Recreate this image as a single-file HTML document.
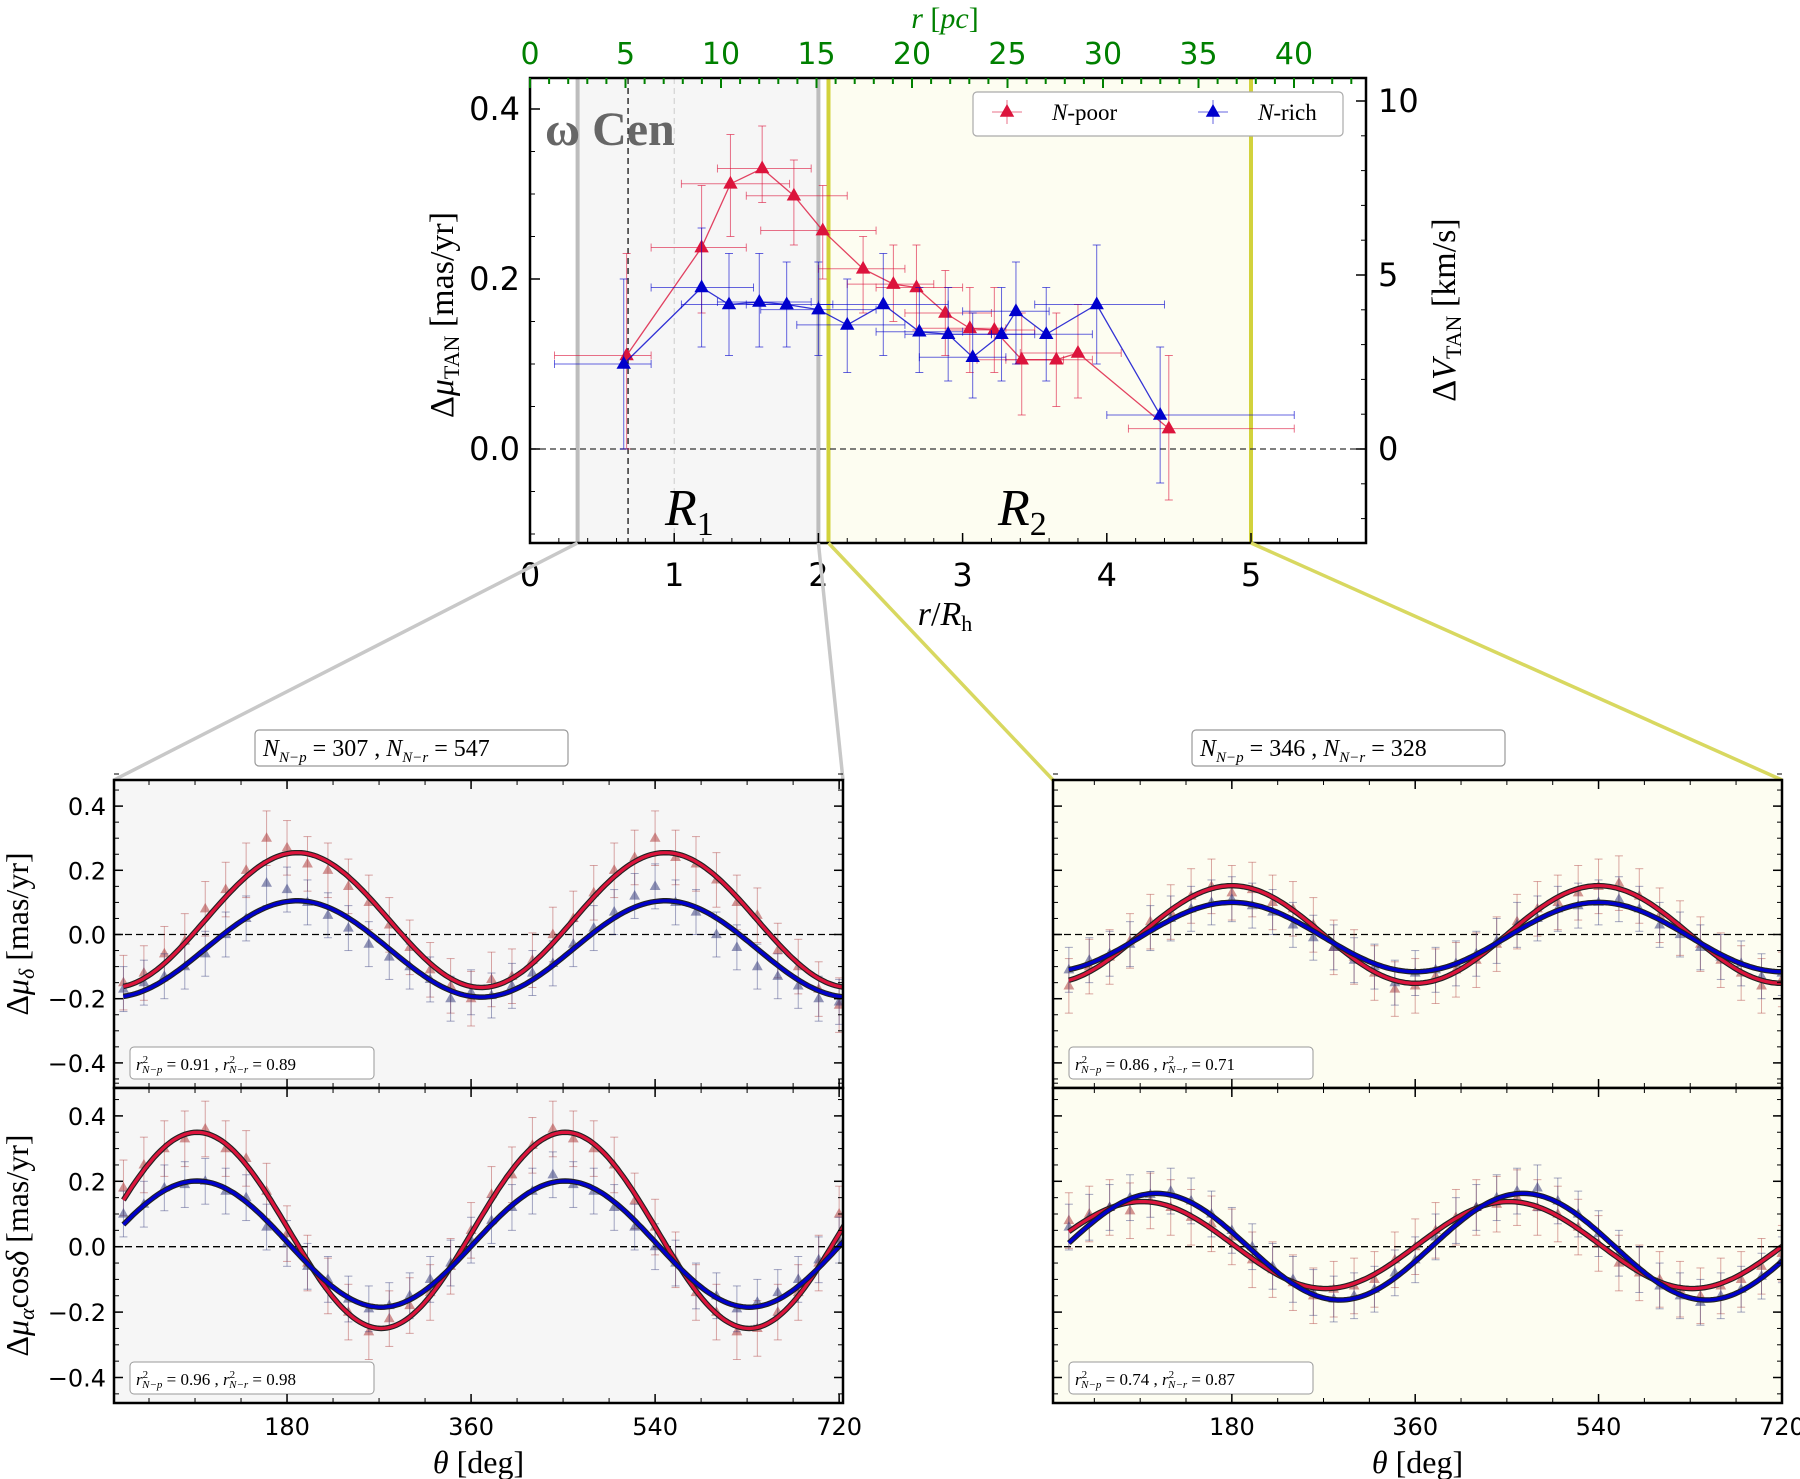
<!DOCTYPE html>
<html><head><meta charset="utf-8">
<style>
html,body{margin:0;padding:0;background:#fff;}
svg{display:block;font-family:"DejaVu Sans","Liberation Sans",sans-serif;}
.serif{font-family:"Liberation Serif","DejaVu Serif",serif;}
</style></head>
<body>
<svg id="fig" width="1800" height="1479" viewBox="0 0 1800 1479" xmlns="http://www.w3.org/2000/svg"></svg>
<script>
// ---------- TOP PANEL DATA ----------
const poorR=[0.67,1.19,1.39,1.61,1.83,2.03,2.31,2.52,2.68,2.88,3.05,3.22,3.41,3.65,3.80,4.43];
const poorV=[0.11,0.237,0.312,0.33,0.298,0.257,0.212,0.194,0.19,0.16,0.142,0.14,0.105,0.105,0.113,0.024];
const poorXlo=[0.17,0.84,1.05,1.30,1.50,1.60,2.00,2.20,2.40,2.60,2.70,2.90,3.10,3.30,3.40,4.15];
const poorXhi=[0.84,1.50,1.80,1.95,2.20,2.40,2.60,2.80,3.00,3.20,3.30,3.50,3.70,3.90,4.10,5.30];
const poorYlo=[0.0,0.16,0.25,0.29,0.24,0.20,0.16,0.15,0.14,0.11,0.09,0.09,0.04,0.05,0.06,-0.06];
const poorYhi=[0.23,0.31,0.37,0.38,0.34,0.31,0.25,0.24,0.24,0.21,0.19,0.19,0.16,0.16,0.17,0.11];
const richR=[0.65,1.19,1.38,1.59,1.78,2.00,2.20,2.45,2.70,2.90,3.07,3.27,3.37,3.58,3.93,4.37];
const richV=[0.10,0.19,0.17,0.173,0.17,0.164,0.146,0.17,0.138,0.135,0.108,0.135,0.162,0.135,0.17,0.04];
const richXlo=[0.17,0.84,1.05,1.30,1.50,1.60,1.85,2.00,2.40,2.60,2.70,2.90,3.00,3.20,3.50,4.00];
const richXhi=[0.84,1.55,1.80,1.95,2.10,2.40,2.60,2.90,3.00,3.20,3.30,3.50,3.60,3.90,4.40,5.30];
const richYlo=[0.0,0.12,0.11,0.12,0.12,0.11,0.09,0.11,0.09,0.08,0.06,0.08,0.10,0.08,0.10,-0.04];
const richYhi=[0.20,0.26,0.23,0.23,0.22,0.22,0.20,0.23,0.19,0.19,0.16,0.19,0.22,0.19,0.24,0.12];
const xTicksTop=[0,1,2,3,4,5];
const yTicksTop=[0.0,0.2,0.4];
const pcTicks=[0,5,10,15,20,25,30,35,40];
const kmsTicks=[0,5,10];

// ---------- BOTTOM PANELS DATA ----------
const theta=[20,40,60,80,100,120,140,160,180,200,220,240,260,280,300,320,340,360,380,400,420,440,460,480,500,520,540,560,580,600,620,640,660,680,700,720];
const thetaTicks=[180,360,540,720];
const yTicksBot=[-0.4,-0.2,0.0,0.2,0.4];
const L1red=[-0.15,-0.12,-0.06,-0.02,0.08,0.14,0.2,0.3,0.27,0.22,0.2,0.15,0.1,0.03,-0.04,-0.11,-0.16,-0.2,-0.14,-0.13,-0.08,0.0,0.05,0.13,0.2,0.24,0.3,0.24,0.22,0.17,0.1,0.06,-0.05,-0.1,-0.17,-0.22];
const L1blue=[-0.17,-0.15,-0.13,-0.1,-0.06,0.0,0.05,0.16,0.14,0.1,0.06,0.02,-0.03,-0.07,-0.1,-0.14,-0.2,-0.18,-0.19,-0.16,-0.12,-0.09,-0.03,0.02,0.07,0.12,0.15,0.1,0.07,0.0,-0.04,-0.1,-0.13,-0.16,-0.2,-0.21];
const L2red=[0.18,0.25,0.3,0.33,0.36,0.3,0.27,0.17,0.04,-0.05,-0.12,-0.2,-0.26,-0.22,-0.18,-0.14,-0.06,0.05,0.16,0.22,0.31,0.36,0.33,0.3,0.25,0.14,0.06,-0.04,-0.14,-0.2,-0.26,-0.25,-0.2,-0.14,-0.05,0.1];
const L2blue=[0.1,0.13,0.18,0.19,0.2,0.17,0.15,0.06,0.01,-0.06,-0.1,-0.16,-0.19,-0.18,-0.15,-0.1,-0.05,0.02,0.08,0.12,0.17,0.22,0.19,0.17,0.12,0.06,0.0,-0.05,-0.12,-0.15,-0.19,-0.17,-0.14,-0.1,-0.04,0.02];
const R1red=[-0.16,-0.1,-0.07,-0.02,0.04,0.07,0.12,0.15,0.13,0.14,0.1,0.08,0.03,-0.04,-0.07,-0.12,-0.17,-0.16,-0.13,-0.11,-0.08,-0.03,0.04,0.08,0.1,0.13,0.15,0.16,0.12,0.06,0.02,-0.03,-0.08,-0.12,-0.16,-0.14];
const R1blue=[-0.11,-0.08,-0.06,-0.03,0.02,0.05,0.08,0.1,0.11,0.09,0.07,0.03,-0.01,-0.04,-0.08,-0.1,-0.15,-0.12,-0.11,-0.09,-0.06,-0.02,0.03,0.05,0.08,0.09,0.1,0.11,0.08,0.03,0.0,-0.04,-0.07,-0.09,-0.13,-0.12];
const R2red=[0.08,0.1,0.12,0.11,0.14,0.12,0.09,0.07,0.03,-0.04,-0.07,-0.11,-0.15,-0.13,-0.12,-0.1,-0.04,0.0,0.05,0.09,0.12,0.13,0.15,0.12,0.1,0.06,0.01,-0.05,-0.08,-0.1,-0.13,-0.15,-0.12,-0.1,-0.06,-0.02];
const R2blue=[0.06,0.09,0.12,0.15,0.16,0.17,0.14,0.1,0.05,0.0,-0.06,-0.1,-0.14,-0.16,-0.15,-0.13,-0.08,-0.04,0.03,0.08,0.12,0.15,0.17,0.18,0.14,0.1,0.04,-0.02,-0.07,-0.12,-0.15,-0.17,-0.15,-0.13,-0.09,-0.04];
const fitL1red=[0.045,0.21,190], fitL1blue=[-0.045,0.15,190];
const fitL2red=[0.05,0.30,92], fitL2blue=[0.008,0.193,92];
const fitR1red=[0.0,0.152,180], fitR1blue=[-0.008,0.108,180];
const fitR2red=[0.005,0.133,92], fitR2blue=[0.0,0.163,106];
const errRed=0.085, errBlue=0.07;

const NS="http://www.w3.org/2000/svg";
const svg=document.getElementById('fig');
function mk(tag,attrs,parent){const e=document.createElementNS(NS,tag);for(const k in attrs)e.setAttribute(k,attrs[k]);(parent||svg).appendChild(e);return e;}
function txt(s,attrs,parent){const e=mk('text',attrs,parent);e.innerHTML=s;return e;}
function tri(cx,cy,s){return `${cx},${cy-s} ${cx-s*0.9},${cy+s*0.6} ${cx+s*0.9},${cy+s*0.6}`;}

const X=v=>530+v*144.2, Y=v=>449-v*850;
const PX=p=>530+p*19.1, KY=k=>449-k*34.8;
const PL=530,PR=1366,PT=78,PB=543;
let g=mk('g',{});


let e;
e=mk('rect',{x:X(0.33),y:PT,width:X(2.0)-X(0.33),height:PB-PT,fill:'#f6f6f6'},g);

e=mk('rect',{x:X(2.07),y:PT,width:X(5)-X(2.07),height:PB-PT,fill:'#fdfdf1'},g);

mk('line',{x1:X(0.33),x2:X(0.33),y1:PT,y2:PB,stroke:'#bdbdbd','stroke-width':4},g);
mk('line',{x1:X(2.0),x2:X(2.0),y1:PT,y2:PB,stroke:'#bdbdbd','stroke-width':4},g);
mk('line',{x1:X(2.07),x2:X(2.07),y1:PT,y2:PB,stroke:'#d2d23c','stroke-width':4},g);
mk('line',{x1:X(5),x2:X(5),y1:PT,y2:PB,stroke:'#d2d23c','stroke-width':4},g);
mk('line',{x1:X(0.68),x2:X(0.68),y1:PT,y2:PB,stroke:'#000','stroke-width':1.2,'stroke-dasharray':'6,4'},g);
mk('line',{x1:X(1.0),x2:X(1.0),y1:PT,y2:PB,stroke:'#ccc','stroke-width':1,'stroke-dasharray':'6,4'},g);
mk('line',{x1:PL,x2:PR,y1:Y(0),y2:Y(0),stroke:'#333','stroke-width':1.2,'stroke-dasharray':'6,4'},g);
e=txt('ω Cen',{x:545,y:145,'font-size':48,'font-weight':'bold',fill:'#666',class:'serif'},g);

e=txt('<tspan font-style="italic">R</tspan><tspan font-size="34" dy="10">1</tspan>',{x:665,y:525,'font-size':52,class:'serif'},g);

e=txt('<tspan font-style="italic">R</tspan><tspan font-size="34" dy="10">2</tspan>',{x:998,y:525,'font-size':52,class:'serif'},g);


function topSeries(R,V,xl,xh,yl,yh,col,name){
  const sg=mk('g',{},g);
  
  
  for(let i=0;i<R.length;i++){
    mk('line',{x1:X(xl[i]),x2:X(xh[i]),y1:Y(V[i]),y2:Y(V[i]),stroke:col,'stroke-width':1,opacity:0.6},sg);
    mk('line',{x1:X(R[i]),x2:X(R[i]),y1:Y(yl[i]),y2:Y(yh[i]),stroke:col,'stroke-width':1,opacity:0.6},sg);
    mk('line',{x1:X(xl[i]),x2:X(xl[i]),y1:Y(V[i])-4,y2:Y(V[i])+4,stroke:col,'stroke-width':1,opacity:0.6},sg);
    mk('line',{x1:X(xh[i]),x2:X(xh[i]),y1:Y(V[i])-4,y2:Y(V[i])+4,stroke:col,'stroke-width':1,opacity:0.6},sg);
    mk('line',{x1:X(R[i])-4,x2:X(R[i])+4,y1:Y(yl[i]),y2:Y(yl[i]),stroke:col,'stroke-width':1,opacity:0.6},sg);
    mk('line',{x1:X(R[i])-4,x2:X(R[i])+4,y1:Y(yh[i]),y2:Y(yh[i]),stroke:col,'stroke-width':1,opacity:0.6},sg);
  }
  mk('polyline',{points:R.map((r,i)=>X(r)+','+Y(V[i])).join(' '),fill:'none',stroke:col,'stroke-width':1.3,opacity:0.8},sg);
  for(let i=0;i<R.length;i++){
    const p=mk('polygon',{points:tri(X(R[i]),Y(V[i]),8),fill:col},sg);
    
    
  }
}
topSeries(poorR,poorV,poorXlo,poorXhi,poorYlo,poorYhi,'#dc143c','n-poor-series');
topSeries(richR,richV,richXlo,richXhi,richYlo,richYhi,'#0000cd','n-rich-series');

mk('rect',{x:PL,y:PT,width:PR-PL,height:PB-PT,fill:'none',stroke:'#000','stroke-width':2.5},g);
for(const t of xTicksTop){
  mk('line',{x1:X(t),x2:X(t),y1:PB,y2:PB-10,stroke:'#000','stroke-width':1.5},g);
  e=txt(String(t),{x:X(t),y:PB+43,'font-size':32,'text-anchor':'middle'},g);
  
}
for(let v=0.2;v<5.8;v+=0.2){mk('line',{x1:X(v),x2:X(v),y1:PB,y2:PB-5,stroke:'#000','stroke-width':1},g);}
for(const t of yTicksTop){
  mk('line',{x1:PL,x2:PL+10,y1:Y(t),y2:Y(t),stroke:'#000','stroke-width':1.5},g);
  e=txt(t.toFixed(1),{x:PL-10,y:Y(t)+11,'font-size':32,'text-anchor':'end'},g);
  
}
for(let v=-0.1;v<0.44;v+=0.05){mk('line',{x1:PL,x2:PL+5,y1:Y(v),y2:Y(v),stroke:'#000','stroke-width':1},g);}
for(const k of kmsTicks){
  mk('line',{x1:PR,x2:PR-10,y1:KY(k),y2:KY(k),stroke:'#000','stroke-width':1.5},g);
  e=txt(String(k),{x:PR+12,y:KY(k)+11,'font-size':32},g);
  
}
for(let k=-2;k<=10;k++){mk('line',{x1:PR,x2:PR-5,y1:KY(k),y2:KY(k),stroke:'#000','stroke-width':1},g);}
for(const p of pcTicks){
  mk('line',{x1:PX(p),x2:PX(p),y1:PT,y2:PT+10,stroke:'#008000','stroke-width':2},g);
  e=txt(String(p),{x:PX(p),y:PT-14,'font-size':30,'text-anchor':'middle',fill:'#008000'},g);
  
}
for(let p=0;p<=43;p++){mk('line',{x1:PX(p),x2:PX(p),y1:PT,y2:PT+6,stroke:'#008000','stroke-width':2},g);}
e=txt('<tspan font-style="italic">r</tspan> [<tspan font-style="italic">pc</tspan>]',{x:945,y:28,'font-size':30,fill:'#008000','text-anchor':'middle',class:'serif'},g);

e=txt('<tspan font-style="italic">r</tspan>/<tspan font-style="italic">R</tspan><tspan font-size="22" dy="6">h</tspan>',{x:945,y:625,'font-size':34,'text-anchor':'middle',class:'serif'},g);

e=txt('Δ<tspan font-style="italic">μ</tspan><tspan font-size="22" dy="6">TAN</tspan><tspan dy="-6"> [mas/yr]</tspan>',{x:0,y:0,'font-size':34,'text-anchor':'middle',class:'serif',transform:'translate(453,315) rotate(-90)'},g);

e=txt('Δ<tspan font-style="italic">V</tspan><tspan font-size="22" dy="6">TAN</tspan><tspan dy="-6"> [km/s]</tspan>',{x:0,y:0,'font-size':34,'text-anchor':'middle',class:'serif',transform:'translate(1455,310) rotate(-90)'},g);

let lg=mk('g',{},g);


mk('rect',{x:973,y:92,width:370,height:44,rx:4,fill:'#fff',stroke:'#aaa','stroke-width':1.2},lg);
mk('line',{x1:992,x2:1022,y1:112,y2:112,stroke:'#dc143c',opacity:0.6},lg);
mk('line',{x1:1007,x2:1007,y1:100,y2:124,stroke:'#dc143c',opacity:0.6},lg);
mk('polygon',{points:tri(1007,112,8),fill:'#dc143c'},lg);
e=txt('<tspan font-style="italic">N</tspan>-poor',{x:1052,y:120,'font-size':23,class:'serif'},lg);

mk('line',{x1:1198,x2:1228,y1:112,y2:112,stroke:'#0000cd',opacity:0.6},lg);
mk('line',{x1:1213,x2:1213,y1:100,y2:124,stroke:'#0000cd',opacity:0.6},lg);
mk('polygon',{points:tri(1213,112,8),fill:'#0000cd'},lg);
e=txt('<tspan font-style="italic">N</tspan>-rich',{x:1258,y:120,'font-size':23,class:'serif'},lg);


mk('line',{x1:X(0.33),y1:PB,x2:114,y2:780,stroke:'#c8c8c8','stroke-width':3.5});
mk('line',{x1:X(2.0),y1:PB,x2:843,y2:780,stroke:'#c8c8c8','stroke-width':3.5});
mk('line',{x1:X(2.07),y1:PB,x2:1053,y2:780,stroke:'#d8d860','stroke-width':3.5});
mk('line',{x1:X(5),y1:PB,x2:1782,y2:780,stroke:'#d8d860','stroke-width':3.5});

function panel(opts){
  const {L,R,T,B,x0,xs,y0,ys,bg,red,blue,fr,fb,r2,name,showX,showY,ylabel}=opts;
  const X2=t=>x0+t*xs, Y2=v=>y0-v*ys;
  const pg=mk('g',{});
  
  
  mk('rect',{x:L,y:T,width:R-L,height:B-T,fill:bg},pg);
  const cid=name+'-clip';
  const cp=mk('clipPath',{id:cid},pg); mk('rect',{x:L,y:T,width:R-L,height:B-T},cp);
  const inner=mk('g',{'clip-path':`url(#${cid})`},pg);
  mk('line',{x1:L,x2:R,y1:Y2(0),y2:Y2(0),stroke:'#000','stroke-width':1.3,'stroke-dasharray':'7,4'},inner);
  function pts(vals,col,err,nm){
    const sg=mk('g',{},inner);
    
    
    for(let i=0;i<theta.length;i++){
      const x=X2(theta[i]),y=Y2(vals[i]);
      mk('line',{x1:x,x2:x,y1:Y2(vals[i]-err),y2:Y2(vals[i]+err),stroke:col,'stroke-width':1,opacity:0.45},sg);
      mk('line',{x1:x-4,x2:x+4,y1:Y2(vals[i]-err),y2:Y2(vals[i]-err),stroke:col,'stroke-width':1,opacity:0.45},sg);
      mk('line',{x1:x-4,x2:x+4,y1:Y2(vals[i]+err),y2:Y2(vals[i]+err),stroke:col,'stroke-width':1,opacity:0.45},sg);
      const p=mk('polygon',{points:tri(x,y,6),fill:col,opacity:0.55},sg);
      
      
    }
  }
  pts(red,'#b04040',errRed,name+'-n-poor-points');
  pts(blue,'#3a3f80',errBlue,name+'-n-rich-points');
  function curve(f,col,nm){
    let d='';
    for(let t=20;t<=725;t+=3){d+=(d?'L':'M')+X2(t).toFixed(1)+','+Y2(f[0]+f[1]*Math.cos((t-f[2])*Math.PI/180)).toFixed(1);}
    mk('path',{d,fill:'none',stroke:'#222','stroke-width':5.5},inner);
    const c=mk('path',{d,fill:'none',stroke:col,'stroke-width':3.2},inner);
    
    
  }
  curve(fr,'#dc143c',name+'-n-poor-fit');
  curve(fb,'#0000cd',name+'-n-rich-fit');
  mk('rect',{x:L+16,y:B-41,width:244,height:32,rx:4,fill:'#fff',stroke:'#999','stroke-width':1},pg);
  const rt=txt(r2,{x:L+22,y:B-18,'font-size':17,class:'serif'},pg);
  
  
  mk('rect',{x:L,y:T,width:R-L,height:B-T,fill:'none',stroke:'#000','stroke-width':2.5},pg);
  for(const t of thetaTicks){
    mk('line',{x1:X2(t),x2:X2(t),y1:B,y2:B-9,stroke:'#000','stroke-width':1.5},pg);
    mk('line',{x1:X2(t),x2:X2(t),y1:T,y2:T+9,stroke:'#000','stroke-width':1.5},pg);
    if(showX){const tl=txt(String(t),{x:X2(t),y:B+32,'font-size':24,'text-anchor':'middle'},pg);
      }
  }
  for(let t=45;t<725;t+=45){mk('line',{x1:X2(t),x2:X2(t),y1:B,y2:B-5,stroke:'#000'},pg);mk('line',{x1:X2(t),x2:X2(t),y1:T,y2:T+5,stroke:'#000'},pg);}
  for(const v of yTicksBot){
    mk('line',{x1:L,x2:L+9,y1:Y2(v),y2:Y2(v),stroke:'#000','stroke-width':1.5},pg);
    mk('line',{x1:R,x2:R-9,y1:Y2(v),y2:Y2(v),stroke:'#000','stroke-width':1.5},pg);
    if(showY){const tl=txt((v<0?'−':'')+Math.abs(v).toFixed(1),{x:L-8,y:Y2(v)+9,'font-size':24,'text-anchor':'end'},pg);
      }
  }
  for(let v=-0.45;v<0.5;v+=0.05){mk('line',{x1:L,x2:L+5,y1:Y2(v),y2:Y2(v),stroke:'#000'},pg);mk('line',{x1:R,x2:R-5,y1:Y2(v),y2:Y2(v),stroke:'#000'},pg);}
  if(showX){const at=txt('<tspan font-style="italic">θ</tspan> [deg]',{x:(L+R)/2,y:B+70,'font-size':32,'text-anchor':'middle',class:'serif'},pg);
    }
  if(ylabel){const yl=txt(ylabel,{x:0,y:0,'font-size':32,'text-anchor':'middle',class:'serif',transform:`translate(28,${(T+B)/2}) rotate(-90)`},pg);
    }
}
const r2txt=(a,b)=>`<tspan font-style="italic">r</tspan><tspan font-size="11" dy="-7">2</tspan><tspan font-size="11" dy="10" dx="-6" font-style="italic">N−p</tspan><tspan dy="-3"> = ${a} ,  </tspan><tspan font-style="italic">r</tspan><tspan font-size="11" dy="-7">2</tspan><tspan font-size="11" dy="10" dx="-6" font-style="italic">N−r</tspan><tspan dy="-3"> = ${b}</tspan>`;
const LP={L:114,R:843,x0:103,xs:1.0224,bg:'#f6f6f6'}, RP={L:1053,R:1782,x0:1048.5,xs:1.0186,bg:'#fdfdf1'};
const TOPS={T:780,B:1088,y0:934.5,ys:321}, BOTS={T:1088,B:1403,y0:1246.7,ys:327};
panel({...LP,...TOPS,red:L1red,blue:L1blue,fr:fitL1red,fb:fitL1blue,r2:r2txt('0.91','0.89'),name:'left-dec-panel',showX:false,showY:true,ylabel:'Δ<tspan font-style="italic">μ</tspan><tspan font-size="22" dy="6" font-style="italic">δ</tspan><tspan dy="-6"> [mas/yr]</tspan>'});
panel({...LP,...BOTS,red:L2red,blue:L2blue,fr:fitL2red,fb:fitL2blue,r2:r2txt('0.96','0.98'),name:'left-ra-panel',showX:true,showY:true,ylabel:'Δ<tspan font-style="italic">μ</tspan><tspan font-size="22" dy="6" font-style="italic">α</tspan><tspan dy="-6">cos<tspan font-style="italic">δ</tspan> [mas/yr]</tspan>'});
panel({...RP,...TOPS,red:R1red,blue:R1blue,fr:fitR1red,fb:fitR1blue,r2:r2txt('0.86','0.71'),name:'right-dec-panel',showX:false,showY:false});
panel({...RP,...BOTS,red:R2red,blue:R2blue,fr:fitR2red,fb:fitR2blue,r2:r2txt('0.74','0.87'),name:'right-ra-panel',showX:true,showY:false});

function countBox(x,a,b,nm){
  const cg=mk('g',{});
  
  
  mk('rect',{x:x,y:730,width:313,height:36,rx:4,fill:'#fff',stroke:'#999','stroke-width':1.2},cg);
  txt(`<tspan font-style="italic">N</tspan><tspan font-size="15" dy="6" font-style="italic">N−p</tspan><tspan dy="-6"> = ${a} ,  </tspan><tspan font-style="italic">N</tspan><tspan font-size="15" dy="6" font-style="italic">N−r</tspan><tspan dy="-6"> = ${b}</tspan>`,{x:x+8,y:756,'font-size':24,class:'serif'},cg);
}
countBox(255,307,547,'r1-count-box');
countBox(1192,346,328,'r2-count-box');
</script>
</body></html>
